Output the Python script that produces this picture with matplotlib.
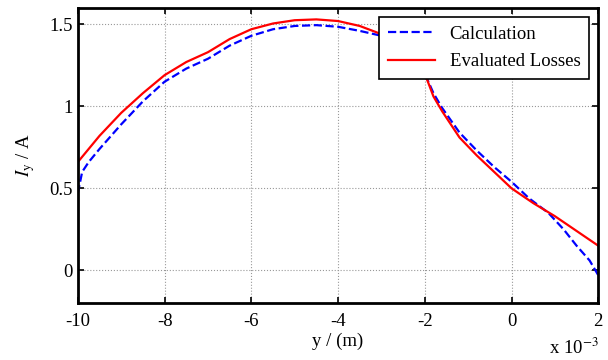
import matplotlib.pyplot as plt

# y position (x 10^-3 m) and current (A)
y_calc = [-10, -9.9, -9.75, -9.5, -9, -8.5, -8, -7.5, -7, -6.5, -6, -5.5, -5, -4.5, -4,
          -3.5, -3, -2.5, -2.2, -2, -1.8, -1.6, -1.2, -0.8, -0.4, 0, 0.4, 0.85, 1.2, 1.5, 1.8, 2]
i_calc = [0.47, 0.60, 0.66, 0.74, 0.89, 1.03, 1.15, 1.23, 1.29, 1.37, 1.43, 1.47, 1.49, 1.495, 1.485,
          1.46, 1.43, 1.37, 1.30, 1.20, 1.08, 0.99, 0.84, 0.73, 0.63, 0.54, 0.44, 0.35, 0.25, 0.15, 0.06, -0.03]

y_loss = [-10, -9.5, -9, -8.5, -8, -7.5, -7, -6.5, -6, -5.5, -5, -4.5, -4, -3.5, -3,
          -2.5, -2.2, -2, -1.8, -1.6, -1.2, -0.8, -0.4, 0, 0.5, 1, 1.5, 2]
i_loss = [0.66, 0.82, 0.96, 1.08, 1.19, 1.27, 1.33, 1.41, 1.47, 1.505, 1.525, 1.53, 1.52, 1.49, 1.44,
          1.37, 1.30, 1.20, 1.06, 0.97, 0.81, 0.70, 0.60, 0.50, 0.41, 0.33, 0.24, 0.15]

xticks = [-10, -8, -6, -4, -2, 0, 2]
yticks = [0, 0.5, 1, 1.5]

plt.rcParams['font.family'] = ['Liberation Serif', 'DejaVu Serif']
plt.rcParams['mathtext.fontset'] = 'stix'

fig = plt.figure(figsize=(6.08, 3.6), dpi=100)
ax = fig.add_axes([0.128, 0.158, 0.856, 0.82])

ax.plot(y_calc, i_calc, '--', color='blue', lw=1.6, label='Calculation')
ax.plot(y_loss, i_loss, '-', color='red', lw=1.6, label='Evaluated Losses')

ax.set_xlim(-10, 2)
ax.set_ylim(-0.2, 1.6)
ax.set_xticks(xticks)
ax.set_xticklabels([str(t) for t in xticks])
ax.set_yticks(yticks)
ax.set_yticklabels(['0', '0.5', '1', '1.5'])
ax.grid(True, color='#999999', linestyle=':', linewidth=0.8)
ax.tick_params(direction='in', top=True, right=True, labelsize=13.5, length=4, width=1.2)
ax.tick_params(axis='x', pad=7)
for s in ax.spines.values():
    s.set_linewidth(2)

ax.set_xlabel('y / (m)', fontsize=13.5, labelpad=2)
ax.set_ylabel('$I_{\\mathrm{y}}$ / A', fontsize=13.5, labelpad=9)
ax.text(1.0, -0.153, 'x 10$^{-3}$', transform=ax.transAxes, ha='right', va='center', fontsize=13.5)

leg = ax.legend(loc='upper right', fontsize=13.5, fancybox=False, framealpha=1,
                edgecolor='black', borderpad=0.45, handlelength=2.5, borderaxespad=0.5,
                labelspacing=0.55)
leg.get_frame().set_linewidth(1.2)

fig.savefig('out.png')
